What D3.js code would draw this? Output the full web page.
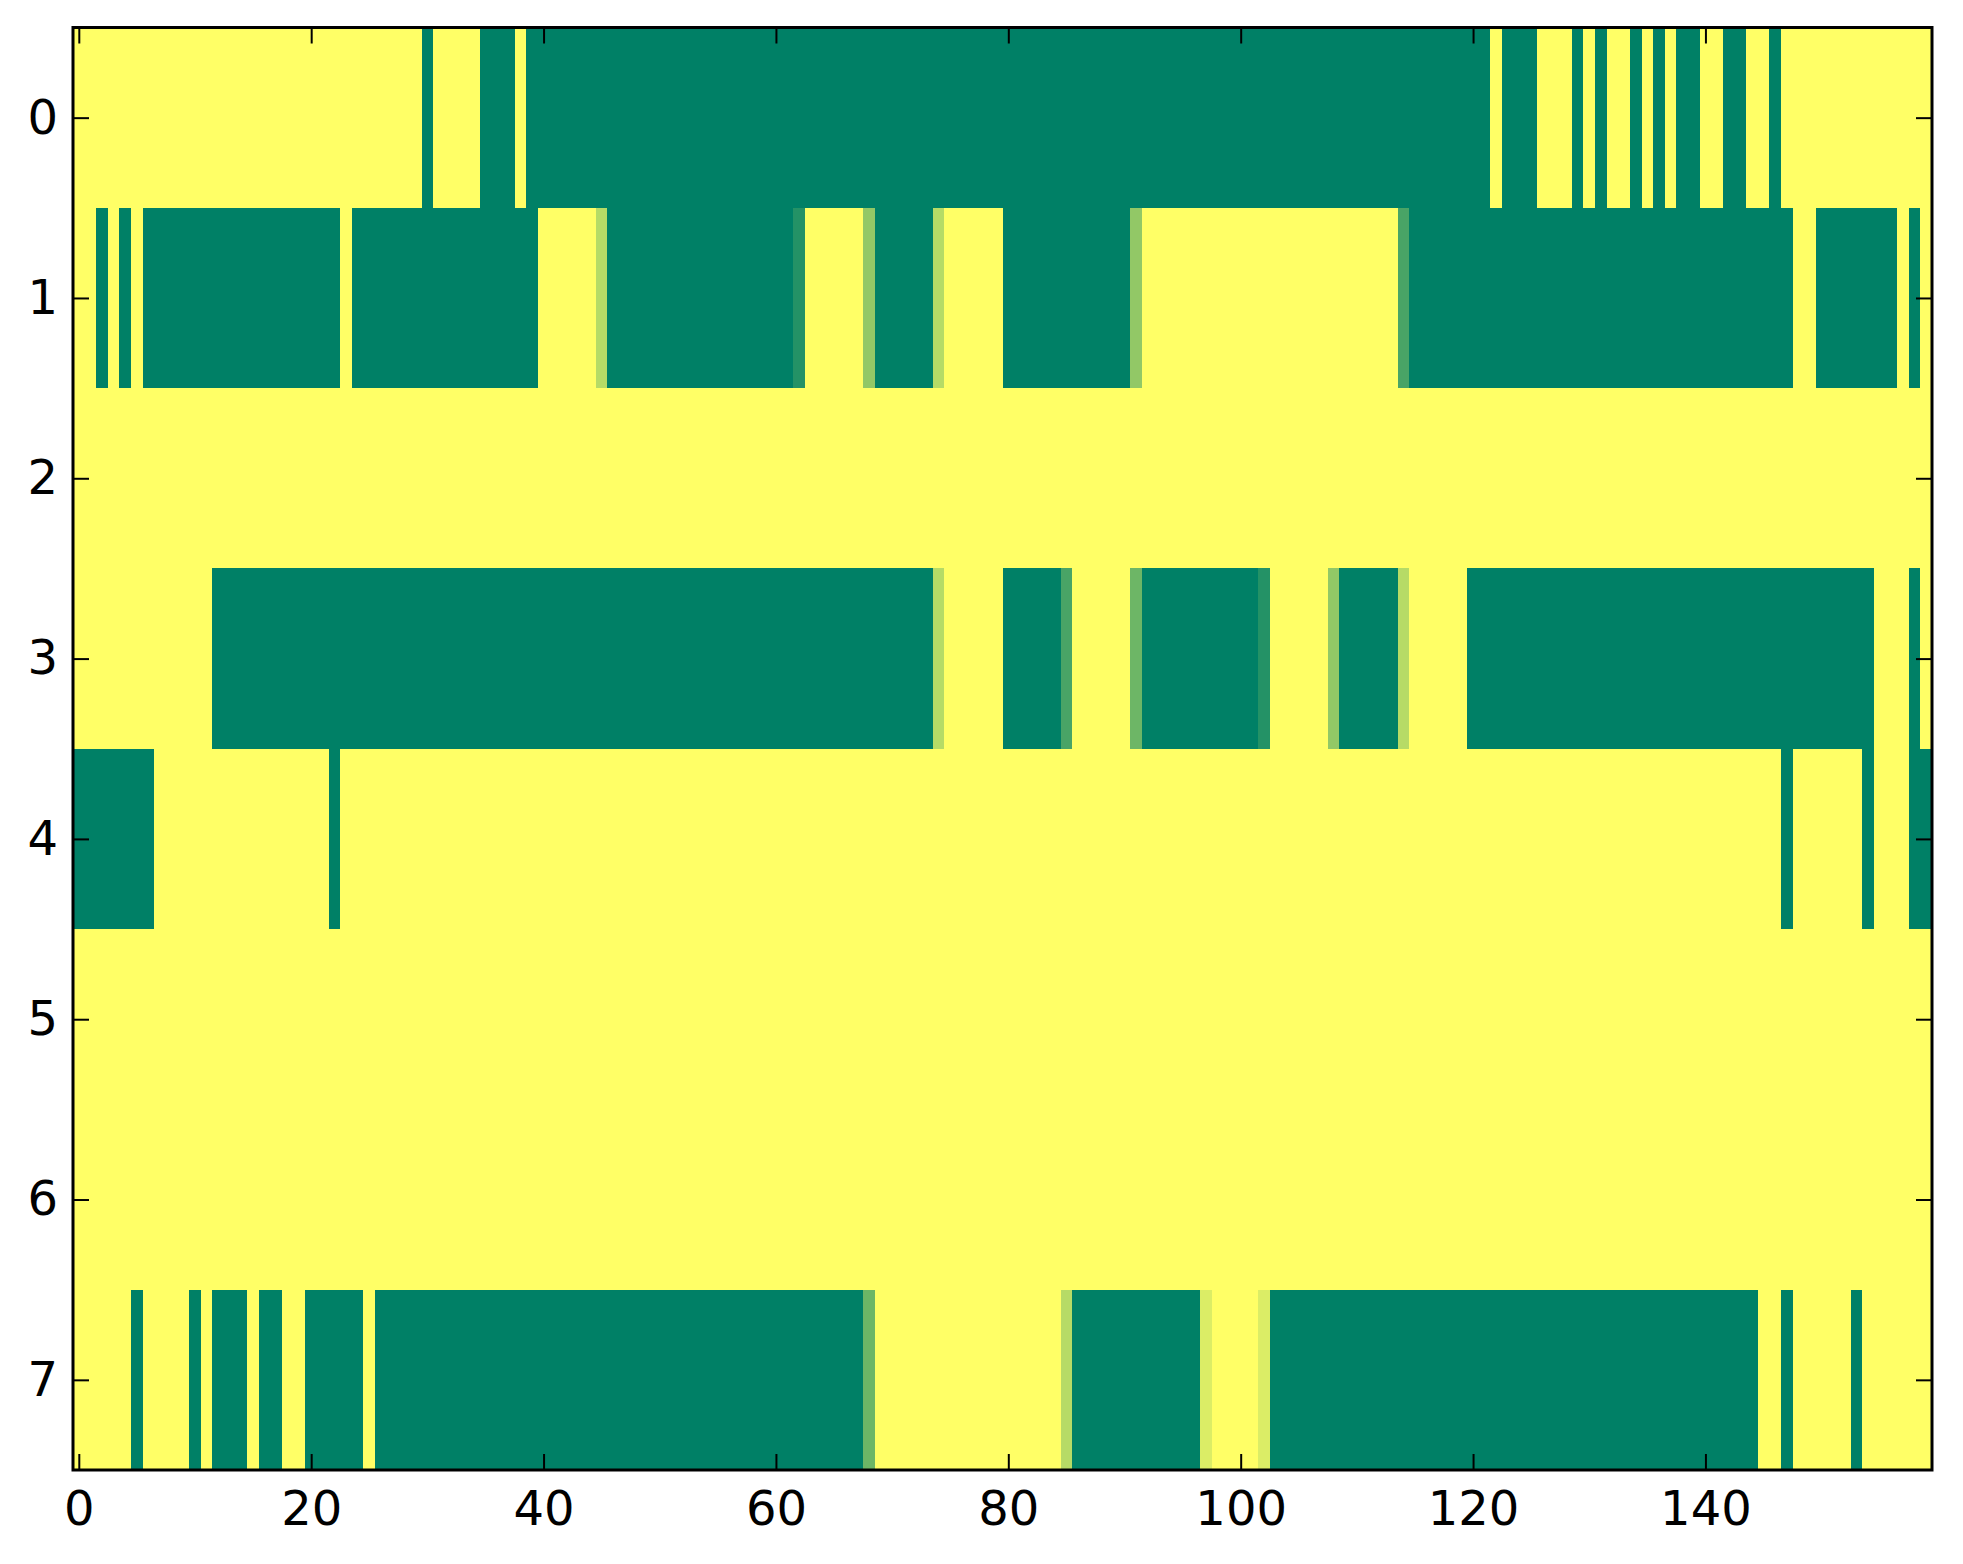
<!DOCTYPE html>
<html>
<head>
<meta charset="utf-8">
<script src="https://cdn.jsdelivr.net/npm/d3@7"></script>
<style>
  html, body { margin: 0; padding: 0; background: #ffffff; }
  svg { display: block; }
</style>
</head>
<body>
<script>
// Cell values: count out of 7 (0 = dark green, 7 = yellow), 160 columns per row.
const row0 = [
  7,7,7,7,7,7,7,7,7,7,
  7,7,7,7,7,7,7,7,7,7,
  7,7,7,7,7,7,7,7,7,7,
  0,7,7,7,7,0,0,0,7,0,
  0,0,0,0,0,0,0,0,0,0,
  0,0,0,0,0,0,0,0,0,0,
  0,0,0,0,0,0,0,0,0,0,
  0,0,0,0,0,0,0,0,0,0,
  0,0,0,0,0,0,0,0,0,0,
  0,0,0,0,0,0,0,0,0,0,
  0,0,0,0,0,0,0,0,0,0,
  0,0,0,0,0,0,0,0,0,0,
  0,0,7,0,0,0,7,7,7,0,
  7,0,7,7,0,7,0,7,0,0,
  7,7,0,0,7,7,0,7,7,7,
  7,7,7,7,7,7,7,7,7,7
];
const row1 = [
  7,7,0,7,0,7,0,0,0,0,
  0,0,0,0,0,0,0,0,0,0,
  0,0,0,7,0,0,0,0,0,0,
  0,0,0,0,0,0,0,0,0,0,
  7,7,7,7,7,5,0,0,0,0,
  0,0,0,0,0,0,0,0,0,0,
  0,0,1,7,7,7,7,7,4,0,
  0,0,0,0,5,7,7,7,7,7,
  0,0,0,0,0,0,0,0,0,0,
  0,4,7,7,7,7,7,7,7,7,
  7,7,7,7,7,7,7,7,7,7,
  7,7,7,7,2,0,0,0,0,0,
  0,0,0,0,0,0,0,0,0,0,
  0,0,0,0,0,0,0,0,0,0,
  0,0,0,0,0,0,0,0,7,7,
  0,0,0,0,0,0,0,7,0,7
];
const row2 = [
  7,7,7,7,7,7,7,7,7,7, 7,7,7,7,7,7,7,7,7,7,
  7,7,7,7,7,7,7,7,7,7, 7,7,7,7,7,7,7,7,7,7,
  7,7,7,7,7,7,7,7,7,7, 7,7,7,7,7,7,7,7,7,7,
  7,7,7,7,7,7,7,7,7,7, 7,7,7,7,7,7,7,7,7,7,
  7,7,7,7,7,7,7,7,7,7, 7,7,7,7,7,7,7,7,7,7,
  7,7,7,7,7,7,7,7,7,7, 7,7,7,7,7,7,7,7,7,7,
  7,7,7,7,7,7,7,7,7,7, 7,7,7,7,7,7,7,7,7,7,
  7,7,7,7,7,7,7,7,7,7, 7,7,7,7,7,7,7,7,7,7
];
const row3 = [
  7,7,7,7,7,7,7,7,7,7,
  7,7,0,0,0,0,0,0,0,0,
  0,0,0,0,0,0,0,0,0,0,
  0,0,0,0,0,0,0,0,0,0,
  0,0,0,0,0,0,0,0,0,0,
  0,0,0,0,0,0,0,0,0,0,
  0,0,0,0,0,0,0,0,0,0,
  0,0,0,0,5,7,7,7,7,7,
  0,0,0,0,0,2,7,7,7,7,
  7,3,0,0,0,0,0,0,0,0,
  0,0,1,7,7,7,7,7,4,0,
  0,0,0,0,5,7,7,7,7,7,
  0,0,0,0,0,0,0,0,0,0,
  0,0,0,0,0,0,0,0,0,0,
  0,0,0,0,0,0,0,0,0,0,
  0,0,0,0,0,7,7,7,0,7
];
const row4 = [
  0,0,0,0,0,0,0,7,7,7,
  7,7,7,7,7,7,7,7,7,7,
  7,7,0,7,7,7,7,7,7,7,
  7,7,7,7,7,7,7,7,7,7,
  7,7,7,7,7,7,7,7,7,7,
  7,7,7,7,7,7,7,7,7,7,
  7,7,7,7,7,7,7,7,7,7,
  7,7,7,7,7,7,7,7,7,7,
  7,7,7,7,7,7,7,7,7,7,
  7,7,7,7,7,7,7,7,7,7,
  7,7,7,7,7,7,7,7,7,7,
  7,7,7,7,7,7,7,7,7,7,
  7,7,7,7,7,7,7,7,7,7,
  7,7,7,7,7,7,7,7,7,7,
  7,7,7,7,7,7,7,0,7,7,
  7,7,7,7,0,7,7,7,0,0
];
const row5 = row2.slice();
const row6 = row2.slice();
const row7 = [
  7,7,7,7,7,0,7,7,7,7,
  0,7,0,0,0,7,0,0,7,7,
  0,0,0,0,0,7,0,0,0,0,
  0,0,0,0,0,0,0,0,0,0,
  0,0,0,0,0,0,0,0,0,0,
  0,0,0,0,0,0,0,0,0,0,
  0,0,0,0,0,0,0,0,3,7,
  7,7,7,7,7,7,7,7,7,7,
  7,7,7,7,7,5,0,0,0,0,
  0,0,0,0,0,0,0,6,7,7,
  7,7,6,0,0,0,0,0,0,0,
  0,0,0,0,0,0,0,0,0,0,
  0,0,0,0,0,0,0,0,0,0,
  0,0,0,0,0,0,0,0,0,0,
  0,0,0,0,0,7,7,0,7,7,
  7,7,7,0,7,7,7,7,7,7
];
const rows = [row0, row1, row2, row3, row4, row5, row6, row7];
const maxCount = 7;
const xTicks = [0, 20, 40, 60, 80, 100, 120, 140];
const yTicks = [0, 1, 2, 3, 4, 5, 6, 7];

const W = 1963, H = 1564;
const m = { left: 73, right: 1932, top: 27.5, bottom: 1470 };
const nCols = row0.length;

const svg = d3.select("body").append("svg").attr("width", W).attr("height", H);
svg.append("rect").attr("width", W).attr("height", H).attr("fill", "#ffffff");

const x = d3.scaleLinear().domain([-0.5, nCols - 0.5]).range([m.left, m.right]);
const y = d3.scaleLinear().domain([-0.5, rows.length - 0.5]).range([m.top, m.bottom]);

// matplotlib "summer" colormap
const summer = t => d3.rgb(255 * t, 255 * (0.5 + 0.5 * t), 102).toString();
const color = v => summer(v / maxCount);

const cells = [];
rows.forEach((r, ri) => r.forEach((v, ci) => cells.push({ r: ri, c: ci, v })));

svg.append("g").attr("shape-rendering", "crispEdges")
  .selectAll("rect").data(cells).join("rect")
  .attr("x", d => x(d.c - 0.5))
  .attr("y", d => y(d.r - 0.5))
  .attr("width", d => x(d.c + 0.5) - x(d.c - 0.5) + 0.6)
  .attr("height", d => y(d.r + 0.5) - y(d.r - 0.5) + 0.6)
  .attr("fill", d => color(d.v));

const font = "'DejaVu Sans', sans-serif";
function styleAxis(g) {
  g.select(".domain").remove();
  g.selectAll(".tick line").attr("stroke", "#000").attr("stroke-width", 2);
  g.selectAll(".tick text").attr("fill", "#000").style("font-family", font).style("font-size", "48px");
}

svg.append("g").attr("transform", `translate(0,${m.bottom})`)
  .call(d3.axisBottom(x).tickValues(xTicks).tickSize(-16).tickPadding(21).tickFormat(d3.format("d")))
  .call(styleAxis);
svg.append("g").attr("transform", `translate(0,${m.top})`)
  .call(d3.axisTop(x).tickValues(xTicks).tickSize(-16).tickFormat(""))
  .call(styleAxis);
svg.append("g").attr("transform", `translate(${m.left},0)`)
  .call(d3.axisLeft(y).tickValues(yTicks).tickSize(-16).tickPadding(15).tickFormat(d3.format("d")))
  .call(styleAxis);
svg.append("g").attr("transform", `translate(${m.right},0)`)
  .call(d3.axisRight(y).tickValues(yTicks).tickSize(-16).tickFormat(""))
  .call(styleAxis);

svg.append("rect")
  .attr("x", m.left).attr("y", m.top)
  .attr("width", m.right - m.left).attr("height", m.bottom - m.top)
  .attr("fill", "none").attr("stroke", "#000").attr("stroke-width", 3);
</script>
</body>
</html>
